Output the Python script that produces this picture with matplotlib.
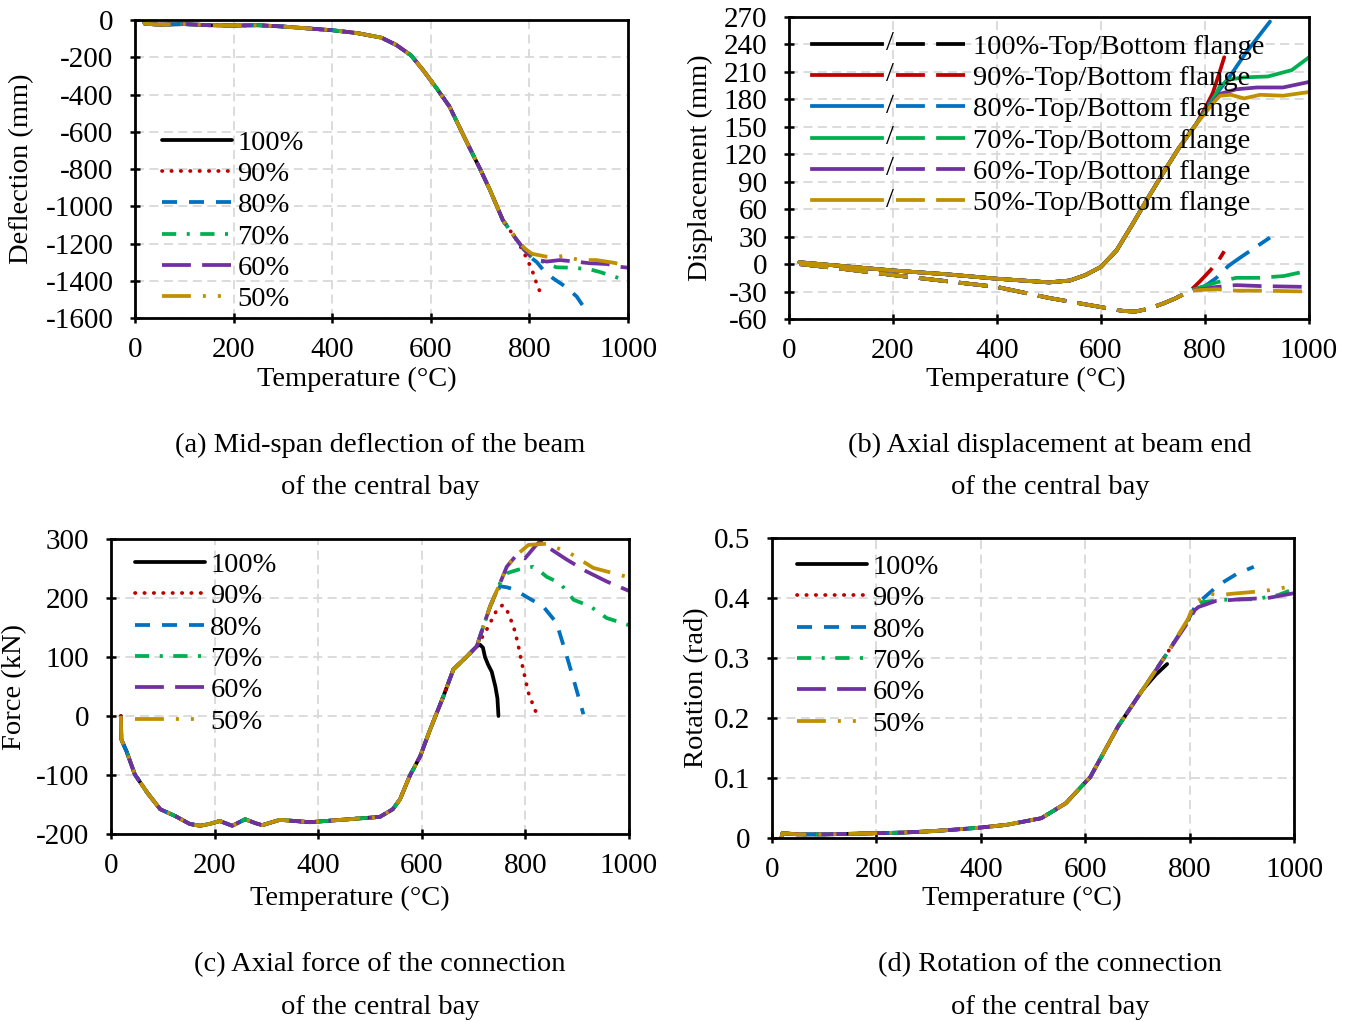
import numpy as np
import matplotlib
matplotlib.use("Agg")
import matplotlib.pyplot as plt
from matplotlib.legend_handler import HandlerBase
from matplotlib.lines import Line2D
from matplotlib.text import Text
from matplotlib.ticker import FuncFormatter

plt.rcParams['font.family'] = ['Liberation Serif', 'DejaVu Serif']
plt.rcParams['axes.unicode_minus'] = False
FS = 20.5
TFS = 21

# ---------------- data ----------------
labels = ["100%", "90%", "80%", "70%", "60%", "50%"]
colors = ["#000000", "#C00000", "#0070C0", "#00B050", "#7030A0", "#BF9000"]

# (a) mid-span deflection
a_base_T = [18, 20, 50, 100, 150, 200, 250, 300, 350, 400, 450, 500, 530, 560, 584, 610, 638, 670, 700, 720, 746]
a_base_D = [-5, -20, -25, -22, -28, -30, -28, -35, -45, -55, -70, -95, -134, -190, -268, -360, -465, -640, -800, -913, -1074]
a_tail_T = {
    "100%": [750],
    "90%": [770, 780, 789, 796, 803, 809, 814, 820, 825],
    "80%": [770, 790, 801, 815, 828, 848, 875, 896, 913],
    "70%": [770, 790, 805, 820, 835, 855, 888, 923, 943, 977, 1000],
    "60%": [770, 790, 805, 820, 835, 862, 892, 923, 957, 980, 1000],
    "50%": [770, 790, 805, 818, 833, 848, 868, 902, 936, 970, 1000],
}
a_tail_D = {
    "100%": [-1090],
    "90%": [-1165, -1208, -1250, -1289, -1328, -1369, -1410, -1450, -1490],
    "80%": [-1165, -1235, -1271, -1300, -1342, -1387, -1435, -1485, -1552],
    "70%": [-1165, -1235, -1275, -1290, -1306, -1328, -1330, -1339, -1353, -1382, -1405],
    "60%": [-1165, -1235, -1275, -1290, -1297, -1289, -1297, -1306, -1310, -1324, -1330],
    "50%": [-1160, -1225, -1255, -1262, -1270, -1274, -1267, -1289, -1289, -1303, -1320],
}

# (b) axial displacement at beam end: top flange (solid), bottom flange (dashed)
b_top_T = [20, 100, 200, 300, 400, 500, 540, 570, 600, 630, 660, 690, 720, 750]
b_top_V = [2, -2, -7, -11, -16, -20, -18, -12, -3, 15, 43, 72, 100, 127]
b_top_tail_T = {
    "100%": [],
    "90%": [783, 800, 815, 826, 837],
    "80%": [783, 814, 850, 880, 925],
    "70%": [783, 814, 829, 850, 875, 921, 967, 1000],
    "60%": [783, 814, 829, 860, 900, 950, 1000],
    "50%": [783, 814, 829, 850, 875, 906, 950, 1000],
}
b_top_tail_V = {
    "100%": [],
    "90%": [153, 170, 187, 206, 226],
    "80%": [153, 180, 207, 232, 265],
    "70%": [153, 178, 195, 202, 204, 205, 212, 226],
    "60%": [153, 176, 186, 191, 193, 193, 199],
    "50%": [153, 175, 184, 185, 181, 185, 184, 188],
}
b_bot_T = [20, 100, 200, 300, 400, 500, 560, 600, 640, 665, 690, 720, 745]
b_bot_V = [0, -5, -12, -18.5, -25, -37, -43, -47, -51, -52, -49, -43, -37]
b_bot_tail_T = {
    "100%": [750],
    "90%": [772, 790, 810, 825, 837],
    "80%": [772, 800, 822, 845, 870, 891, 925],
    "70%": [772, 800, 822, 860, 906, 952, 1000],
    "60%": [772, 800, 822, 860, 906, 1000],
    "50%": [772, 800, 822, 860, 906, 1000],
}
b_bot_tail_V = {
    "100%": [-35],
    "90%": [-29, -19, -7, 3, 14],
    "80%": [-29, -24, -15, -2, 8, 16, 29],
    "70%": [-29, -24, -20, -15, -15, -13, -7],
    "60%": [-29, -27, -25, -23, -24, -25],
    "50%": [-29, -28, -27.5, -29, -29, -30],
}

# (c) axial force of the connection
c_base_T = [19, 20, 30, 46, 70, 95, 125, 152, 172, 190, 210, 234, 259, 280, 292, 326, 384, 459, 519,
            544, 558, 577, 597, 616, 642, 661, 687]
c_base_F = [0, -40, -60, -99, -130, -158, -170, -183, -186, -183, -178, -186, -175, -182, -185, -176, -180,
            -175, -171, -158, -141, -101, -68, -23, 34, 79, 101]
c_tail_T = {
    "100%": [706, 712, 718, 722, 728, 735, 742, 746, 748],
    "90%": [706, 725, 745, 756, 765, 777, 785, 793, 800, 806, 815, 825],
    "80%": [706, 720, 732, 751, 765, 780, 802, 834, 860, 880, 893, 912],
    "70%": [706, 720, 732, 751, 764, 786, 815, 830, 841, 867, 893, 925, 957, 1000],
    "60%": [706, 720, 732, 751, 764, 783, 799, 821, 834, 847, 880, 918, 957, 1000],
    "50%": [706, 720, 732, 751, 764, 783, 806, 841, 886, 931, 970, 1000],
}
c_tail_F = {
    "100%": [118, 121, 116, 100, 87, 75, 50, 30, 0],
    "90%": [118, 146, 180, 188, 178, 152, 125, 90, 62, 39, 18, -3],
    "80%": [118, 155, 186, 220, 218, 214, 202, 186, 158, 101, 62, 3],
    "70%": [118, 155, 186, 225, 242, 248, 253, 244, 236, 225, 197, 186, 166, 154],
    "60%": [118, 155, 186, 225, 253, 273, 267, 290, 300, 284, 265, 245, 228, 212],
    "50%": [118, 155, 186, 225, 253, 273, 290, 292, 276, 251, 242, 235],
}

# (d) rotation of the connection
d_base_T = [18, 20, 50, 100, 150, 200, 250, 300, 350, 395, 450, 516, 563, 610, 663, 710]
d_base_R = [0.0, 0.008, 0.006, 0.006, 0.007, 0.008, 0.009, 0.011, 0.014, 0.017, 0.022, 0.033, 0.058, 0.102,
            0.186, 0.247]
d_tail_T = {
    "100%": [735, 757],
    "90%": [757, 797, 806],
    "80%": [757, 797, 810, 823, 856, 890, 923],
    "70%": [757, 797, 810, 823, 863, 926, 970, 1000],
    "60%": [757, 797, 810, 817, 850, 900, 950, 1000],
    "50%": [757, 797, 810, 837, 860, 880, 920, 952, 1000],
}
d_tail_R = {
    "100%": [0.272, 0.29],
    "90%": [0.308, 0.363, 0.375],
    "80%": [0.308, 0.363, 0.385, 0.397, 0.422, 0.44, 0.452],
    "70%": [0.308, 0.363, 0.385, 0.393, 0.397, 0.398, 0.405, 0.415],
    "60%": [0.308, 0.36, 0.38, 0.385, 0.395, 0.398, 0.40, 0.408],
    "50%": [0.308, 0.365, 0.392, 0.407, 0.405, 0.407, 0.41, 0.413, 0.42],
}

# ---------------- styles ----------------
LW = 2.7
styles = {
    "100%": dict(ls="-"),
    "90%": dict(ls=(0, (0.1, 2.4)), dash_capstyle="round"),
    "80%": dict(ls=(0, (4, 3.2))),
    "70%": dict(ls=(0, (3.8, 2.8, 0.8, 2.8))),
    "60%": dict(ls=(0, (7.7, 3))),
    "50%": dict(ls=(0, (7.7, 3.2, 0.8, 3.2, 0.8, 3.2))),
}

fig = plt.figure(figsize=(13.54, 10.22), dpi=100)
W, H = 1354, 1022


def add_ax(l, r, t, b):
    return fig.add_axes([l / W, 1 - b / H, (r - l) / W, (b - t) / H])


def style_ax(ax):
    ax.grid(True, color="#D9D9D9", lw=1.3, ls=(0, (5, 3)))
    ax.set_axisbelow(True)
    for s in ax.spines.values():
        s.set_linewidth(2.0)
        s.set_color("black")
    ax.tick_params(direction="inout", length=7, width=1.8, labelsize=TFS)
    ax.tick_params(axis="y", pad=12)
    ax.tick_params(axis="x", pad=10)


axA = add_ax(135, 628, 20, 318)
axB = add_ax(789, 1309, 17, 319)
axC = add_ax(111, 629, 539, 834)
axD = add_ax(772, 1294, 538, 838)

# (a)
for lab, col in zip(labels, colors):
    T = a_base_T + a_tail_T[lab]
    D = a_base_D + a_tail_D[lab]
    axA.plot(T, D, color=col, lw=LW, label=lab, solid_capstyle="round", **styles[lab])
axA.set_xlim(0, 1000)
axA.set_ylim(-1600, 0)
axA.set_xticks(np.arange(0, 1001, 200))
axA.set_yticks(np.arange(-1600, 1, 200))

# (c)
for lab, col in zip(labels, colors):
    T = c_base_T + c_tail_T[lab]
    F = c_base_F + c_tail_F[lab]
    axC.plot(T, F, color=col, lw=LW, label=lab, solid_capstyle="round", **styles[lab])
axC.set_xlim(0, 1000)
axC.set_ylim(-200, 300)
axC.set_xticks(np.arange(0, 1001, 200))
axC.set_yticks(np.arange(-200, 301, 100))

# (d)
for lab, col in zip(labels, colors):
    T = d_base_T + d_tail_T[lab]
    R = d_base_R + d_tail_R[lab]
    axD.plot(T, R, color=col, lw=LW, label=lab, solid_capstyle="round", **styles[lab])
axD.set_xlim(0, 1000)
axD.set_ylim(0, 0.5)
axD.set_xticks(np.arange(0, 1001, 200))
axD.set_yticks(np.arange(0, 0.51, 0.1))
axD.yaxis.set_major_formatter(FuncFormatter(lambda v, p: "0" if abs(v) < 1e-9 else f"{v:.1f}"))

# (b)
DASH_B = (0, (7.7, 3))
b_handles = []
for lab, col in zip(labels, colors):
    Tt = b_top_T + b_top_tail_T[lab]
    Vt = b_top_V + b_top_tail_V[lab]
    Tb = b_bot_T + b_bot_tail_T[lab]
    Vb = b_bot_V + b_bot_tail_V[lab]
    axB.plot(Tb, Vb, color=col, lw=LW, ls=DASH_B)
    h, = axB.plot(Tt, Vt, color=col, lw=LW, ls="-", solid_capstyle="round",
                  label=lab + "-Top/Bottom flange")
    b_handles.append(h)
axB.set_xlim(0, 1000)
axB.set_ylim(-60, 270)
axB.set_xticks(np.arange(0, 1001, 200))
axB.set_yticks(np.arange(-60, 271, 30))

for ax in (axA, axB, axC, axD):
    style_ax(ax)


class SlashHandler(HandlerBase):
    def create_artists(self, legend, orig_handle, xdescent, ydescent, width, height, fontsize, trans):
        col = orig_handle.get_color()
        y = height / 2 - ydescent
        x0 = -xdescent
        l1 = Line2D([x0, x0 + 0.45 * width], [y, y], color=col, lw=LW, transform=trans)
        t = Text(x0 + 0.5 * width, y, "/", ha="center", va="center", fontsize=fontsize, transform=trans)
        l2 = Line2D([x0 + 0.545 * width, x0 + width], [y, y], color=col, lw=LW, ls=DASH_B, transform=trans)
        return [l1, t, l2]


leg_kw = dict(frameon=False, fontsize=FS, borderpad=0, borderaxespad=0, handletextpad=0.2,
              labelspacing=0.19)
axA.legend(loc="upper left", bbox_to_anchor=(0.055, 0.632), handlelength=2.45, **leg_kw)
axC.legend(loc="upper left", bbox_to_anchor=(0.046, 0.956), handlelength=2.45, **leg_kw)
axD.legend(loc="upper left", bbox_to_anchor=(0.048, 0.947), handlelength=2.45, **leg_kw)
axB.legend(handles=b_handles, loc="upper left", bbox_to_anchor=(0.044, 0.945), handlelength=5.45,
           handler_map={h: SlashHandler() for h in b_handles}, **leg_kw)

# axis labels
axA.set_xlabel("Temperature (\u00b0C)", fontsize=FS, va="center")
axA.xaxis.set_label_coords((357 - 135) / 493, -(379 - 318) / 298)
axA.set_ylabel("Deflection (mm)", fontsize=FS, va="center")
axA.yaxis.set_label_coords((22 - 135) / 493, 0.5)

axB.set_xlabel("Temperature (\u00b0C)", fontsize=FS, va="center")
axB.xaxis.set_label_coords((1026 - 789) / 520, -(379 - 319) / 302)
axB.set_ylabel("Displacement (mm)", fontsize=FS, va="center")
axB.yaxis.set_label_coords((700 - 789) / 520, 0.5)

axC.set_xlabel("Temperature (\u00b0C)", fontsize=FS, va="center")
axC.xaxis.set_label_coords((350 - 111) / 518, -(898 - 834) / 295)
axC.set_ylabel("Force (kN)", fontsize=FS, va="center")
axC.yaxis.set_label_coords((15 - 111) / 518, 0.5)

axD.set_xlabel("Temperature (\u00b0C)", fontsize=FS, va="center")
axD.xaxis.set_label_coords((1022 - 772) / 522, -(898 - 838) / 300)
axD.set_ylabel("Rotation (rad)", fontsize=FS, va="center")
axD.yaxis.set_label_coords((697 - 772) / 522, 0.5)

# captions
caps = [
    (380, 445, "(a) Mid-span deflection of the beam"),
    (380, 487, "of the central bay"),
    (1050, 445, "(b) Axial displacement at beam end"),
    (1050, 487, "of the central bay"),
    (380, 965, "(c) Axial force of the connection"),
    (380, 1007, "of the central bay"),
    (1050, 965, "(d) Rotation of the connection"),
    (1050, 1007, "of the central bay"),
]
for x, y, s in caps:
    fig.text(x / W, 1 - y / H, s, ha="center", va="center", fontsize=FS)

fig.savefig("out.png", dpi=100)
